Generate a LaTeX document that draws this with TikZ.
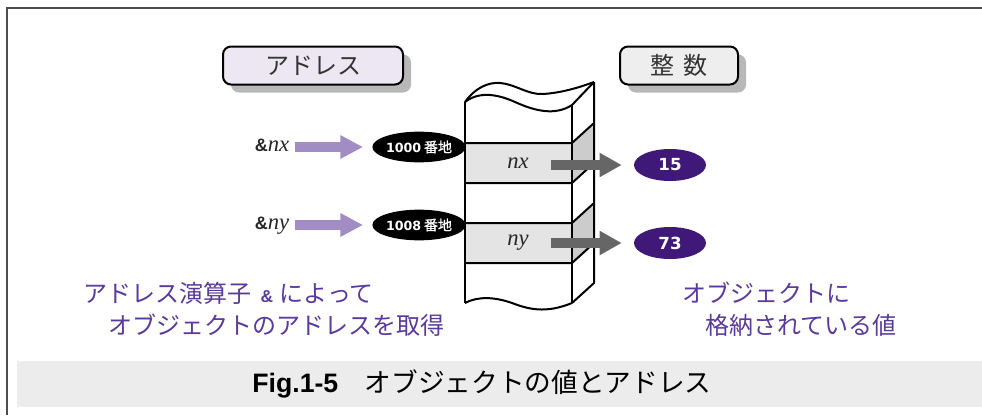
\documentclass[tikz,border=0pt]{standalone}
\usepackage{fontspec}
\setmainfont{Liberation Sans}
\newfontfamily\jp{Noto Sans CJK JP}
\newfontfamily\jpfb{Noto Sans CJK JP}[FakeBold=1.2]
\newfontfamily\tms{Liberation Serif}
\newfontfamily\dvs{DejaVu Sans}
\usetikzlibrary{shapes.geometric,arrows.meta,shadows}
\definecolor{framegray}{HTML}{4D4D4D}
\definecolor{capband}{HTML}{ECECEC}
\definecolor{lavbox}{HTML}{EDE7F3}
\definecolor{graybox}{HTML}{EEEEEE}
\definecolor{arrowlav}{HTML}{A28CC4}
\definecolor{valpurple}{HTML}{3F1878}
\definecolor{txtpurple}{HTML}{5A3A9A}
\definecolor{rowgray}{HTML}{E4E4E4}
\definecolor{sidegray}{HTML}{CCCCCC}
\definecolor{arrowgray}{HTML}{666666}
\definecolor{labelgray}{HTML}{333333}
\begin{document}
\begin{tikzpicture}[x=0.75pt,y=-0.75pt,
 titlebox/.style={draw=black, line width=1.5pt, rounded corners=6pt, minimum height=28.5pt,
   font=\jp\fontsize{18}{18}\selectfont, text=labelgray,
   drop shadow={shadow xshift=6pt, shadow yshift=-6pt, fill=black!28, opacity=1}},
 addr/.style={ellipse, fill=black, text=white, minimum width=63pt, minimum height=23pt, inner sep=0pt},
 val/.style={ellipse, fill=valpurple, text=white, minimum width=54pt, minimum height=24pt, inner sep=0pt,
   font=\dvs\bfseries\fontsize{12.5}{12.5}\selectfont},
 ptrlbl/.style={inner sep=0pt, text height=10pt, text depth=3pt, text=black!85},
 cell/.style={inner sep=0pt, text=black!85, font=\tms\itshape\fontsize{17}{17}\selectfont},
 lavarrow/.style={draw=arrowlav, line width=7.5pt, -{Triangle[length=17pt,width=16.5pt]}},
 grayarrow/.style={draw=arrowgray, line width=7.5pt, -{Triangle[length=16.5pt,width=17pt]}},
 note/.style={text=txtpurple, inner sep=0pt, anchor=west, font=\jp\fontsize{18}{18}\selectfont},
 memline/.style={draw=black, line width=1.5pt, line join=round}
]
\useasboundingbox (0,0) rectangle (982,415);
% frame and caption band
\draw[framegray, line width=2pt] (7,415) -- (7,8) -- (982,8);
\fill[capband] (17,361) rectangle (982,407);
\node (cap) at (482,384) {\fontsize{20}{20}\selectfont\bfseries Fig.1-5\quad{\mdseries\jp オブジェクトの値とアドレス}};
% title boxes
\node[titlebox, fill=lavbox, minimum width=135pt] (addrbox) at (313,65.5) {アドレス};
\node[titlebox, fill=graybox, minimum width=88.5pt] (intbox) at (679,65.5) {整\hspace{0.4em}数};
% memory column fill
\fill[white] (465,102) .. controls (475,88) and (488,82) .. (500,83)
  .. controls (515,84) and (528,95) .. (543,94)
  .. controls (560,93) and (578,88) .. (594,82)
  -- (594,283) -- (572,303)
  .. controls (545,314) and (528,309) .. (512,303)
  .. controls (495,297) and (478,296) .. (465,303) -- cycle;
\fill[rowgray] (465,143) rectangle (572,183);
\fill[sidegray] (572,143) -- (594,123) -- (594,163) -- (572,183) -- cycle;
\fill[rowgray] (465,223) rectangle (572,263);
\fill[sidegray] (572,223) -- (594,203) -- (594,243) -- (572,263) -- cycle;
% memory column lines
\draw[memline] (465,102) .. controls (475,88) and (488,82) .. (500,83)
  .. controls (515,84) and (528,95) .. (543,94)
  .. controls (560,93) and (578,88) .. (594,82);
\draw[memline] (465,102) .. controls (478,92) and (495,93) .. (515,102)
  .. controls (535,111) and (555,116) .. (572,105) -- (594,82);
\draw[memline] (465,102) -- (465,303);
\draw[memline] (572,105) -- (572,303);
\draw[memline] (594,82) -- (594,283) -- (572,303);
\draw[memline] (465,303) .. controls (478,296) and (495,297) .. (512,303)
  .. controls (528,309) and (545,314) .. (572,303);
\foreach \yy in {143,183,223,263} {
  \draw[memline] (465,\yy) -- (572,\yy) -- (594,\yy-20);
}
% cell labels
\node[cell] (nxcell) at (518,163) {nx};
\node[cell] (nycell) at (518,243) {ny};
% values
\node[val] (v15) at (670,165) {15};
\node[val] (v73) at (670,243) {73};
\coordinate (gx) at (551,165);
\coordinate (gy) at (551,243);
\draw[grayarrow, shorten >=9pt] (gx) -- (v15.west);
\draw[grayarrow, shorten >=9pt] (gy) -- (v73.west);
% addresses
\node[addr] (a1000) at (419,147) {\dvs\bfseries\fontsize{9.5}{9.5}\selectfont 1000\hspace{2pt}{\mdseries\jpfb\fontsize{10.5}{10.5}\selectfont 番地}};
\node[addr] (a1008) at (419,225) {\dvs\bfseries\fontsize{9.5}{9.5}\selectfont 1008\hspace{2pt}{\mdseries\jpfb\fontsize{10.5}{10.5}\selectfont 番地}};
% pointer labels
\node[ptrlbl] (pnx) at (272,147) {{\bfseries\fontsize{13.5}{13.5}\selectfont\&}{\tms\itshape\fontsize{17}{17}\selectfont nx}};
\node[ptrlbl] (pny) at (272,225) {{\bfseries\fontsize{13.5}{13.5}\selectfont\&}{\tms\itshape\fontsize{17}{17}\selectfont ny}};
\draw[lavarrow, shorten <=4.5pt, shorten >=6.75pt] (pnx) -- (a1000);
\draw[lavarrow, shorten <=4.5pt, shorten >=6.75pt] (pny) -- (a1008);
% notes
\node[note] (n1) at (83,293) {アドレス演算子\hspace{7pt}{\rmfamily\bfseries\fontsize{13}{13}\selectfont\&}\hspace{5pt}によって};
\node[note] (n2) at (108,325) {オブジェクトのアドレスを取得};
\node[note] (n3) at (682,293) {オブジェクトに};
\node[note] (n4) at (705,325) {格納されている値};
\end{tikzpicture}
\end{document}
